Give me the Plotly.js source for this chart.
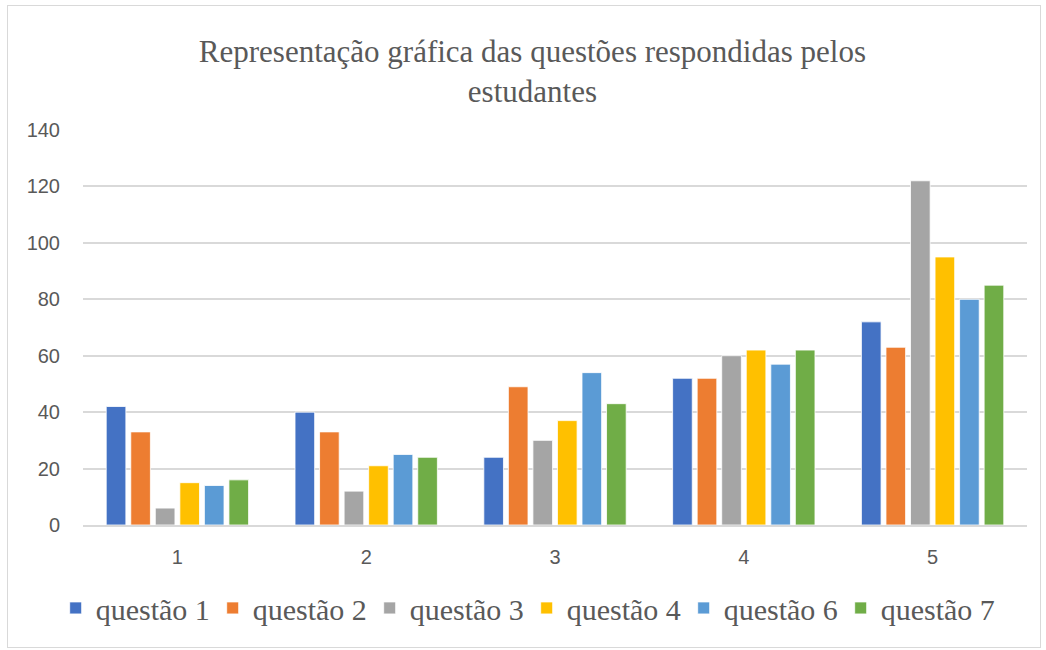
<!DOCTYPE html>
<html><head><meta charset="utf-8">
<script src="https://cdn.plot.ly/plotly-3.0.1.min.js"></script>
<style>
body{margin:0;padding:0;background:#fff;}
#wrap{position:relative;width:1046px;height:650px;}
#chart{width:1046px;height:650px;}
#frame{position:absolute;left:7px;top:5px;width:1032px;height:641px;border:1.5px solid #d9d9d9;pointer-events:none;}
</style></head>
<body><div id="wrap"><div id="chart"></div><div id="frame"></div></div>
<script>
const categories = ['1','2','3','4','5'];
const seriesNames = ['questão 1','questão 2','questão 3','questão 4','questão 6','questão 7'];
const q1 = [42,40,24,52,72];
const q2 = [33,33,49,52,63];
const q3 = [6,12,30,60,122];
const q4 = [15,21,37,62,95];
const q6 = [14,25,54,57,80];
const q7 = [16,24,43,62,85];
const colors = ['#4472C4','#ED7D31','#A5A5A5','#FFC000','#5B9BD5','#70AD47'];
const values = [q1,q2,q3,q4,q6,q7];

const serif = 'Liberation Serif';
const sans = 'Liberation Sans';

const traces = values.map((v,i)=>({
  type:'bar', x:categories, y:v, name:seriesNames[i],
  marker:{color:colors[i], line:{color:'#ffffff', width:0.8}},
  hoverinfo:'y+name'
}));

const layout = {
  width:1046, height:650,
  margin:{l:83, r:19, t:130, b:125},
  paper_bgcolor:'#ffffff', plot_bgcolor:'#ffffff',
  title:{text:'Representação gráfica das questões respondidas pelos<br>estudantes',
    font:{family:serif, size:31, color:'#595959'},
    x:0.509, xanchor:'center', y:0.905, yanchor:'middle', yref:'container'},
  barmode:'group', bargap:0.22, bargroupgap:0.2,
  xaxis:{type:'category', showgrid:false, showline:true, linecolor:'#d9d9d9', linewidth:1.5,
    ticks:'', ticklabelstandoff:13, tickfont:{family:sans, size:20, color:'#595959'}},
  yaxis:{range:[0,140], dtick:20, showgrid:true, gridcolor:'#d9d9d9', gridwidth:1.5,
    zeroline:false, showline:false, ticks:'', ticklabelstandoff:22,
    tickfont:{family:sans, size:20, color:'#595959'}},
  showlegend:true,
  legend:{orientation:'h', x:0.47, xanchor:'center', y:-0.21, yanchor:'middle',
    font:{family:serif, size:30, color:'#595959'},
    itemwidth:30, entrywidth:112, entrywidthmode:'pixels', traceorder:'normal'}
};
Plotly.newPlot('chart', traces, layout, {displayModeBar:false});
</script></body></html>
